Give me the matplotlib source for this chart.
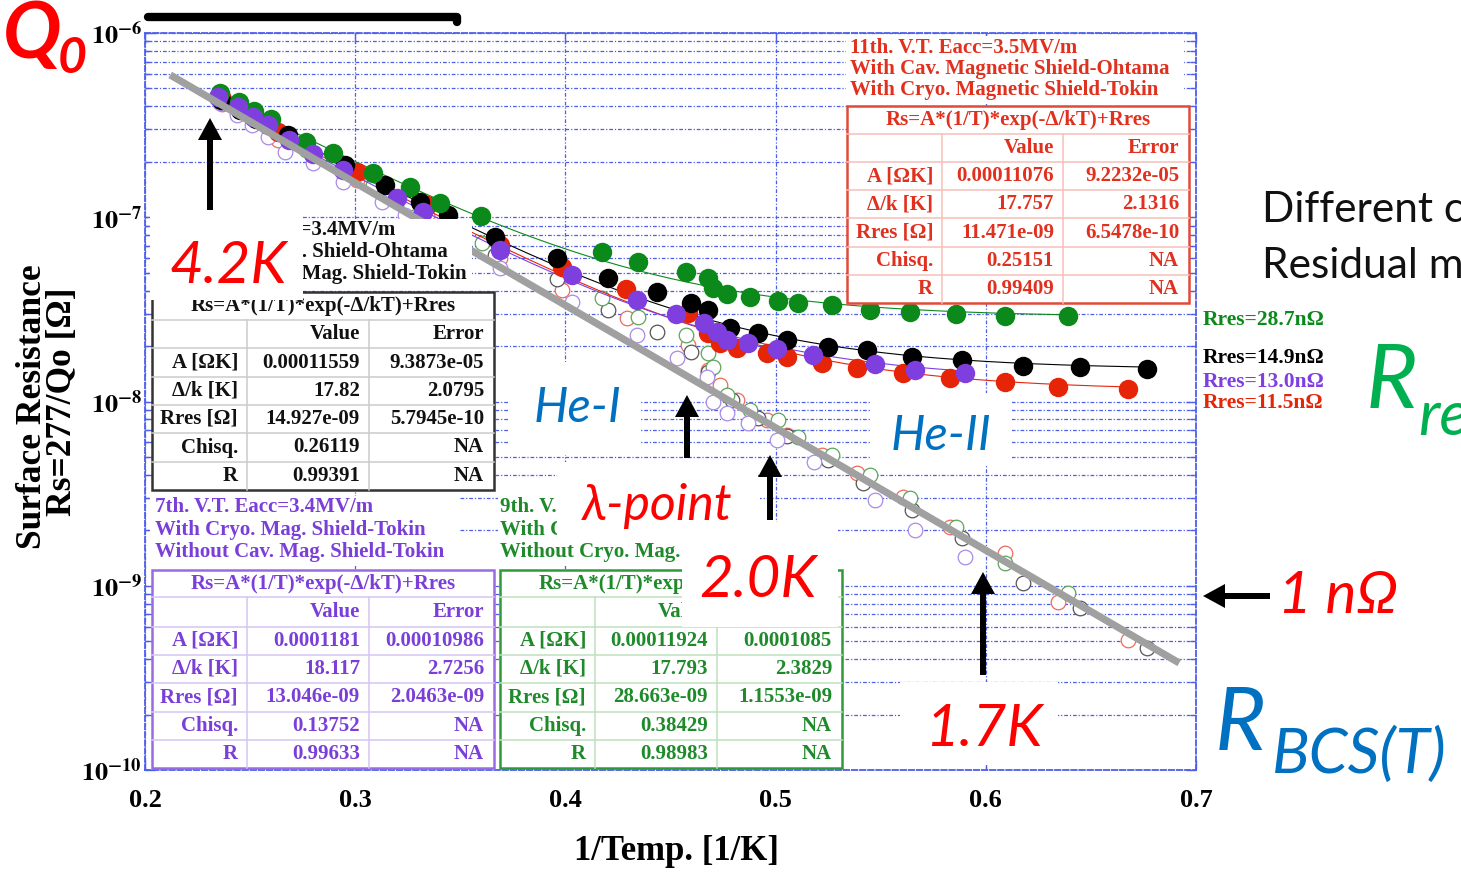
import numpy as np
import matplotlib
matplotlib.use("Agg")
import matplotlib.pyplot as plt
from matplotlib.patches import Rectangle, FancyArrow
from matplotlib.ticker import LogLocator, NullFormatter

W, H = 1461, 873
SERIF = ["Liberation Serif", "DejaVu Serif"]
SANS = ["Lato", "DejaVu Sans"]

plt.rcParams["font.family"] = SERIF
plt.rcParams["font.weight"] = "bold"
plt.rcParams["mathtext.fontset"] = "stix"
plt.rcParams["mathtext.default"] = "bf"

#### data : 1/T [1/K] vs Rs [Ohm]   (filled = measured, *_bcs = Rs - Rres)
green_inv_t = [0.2357, 0.2447, 0.2519, 0.2599, 0.2766, 0.2894, 0.3085, 0.3261, 0.3403, 0.3598,
               0.4174, 0.4345, 0.4574, 0.4678, 0.4702, 0.4769, 0.4878, 0.5011, 0.5107, 0.5268,
               0.5449, 0.5639, 0.5858, 0.6091, 0.6391]
green_rs = [4.73e-7, 4.22e-7, 3.77e-7, 3.41e-7, 2.56e-7, 2.23e-7, 1.74e-7, 1.46e-7, 1.195e-7, 1.016e-7,
            6.48e-8, 5.71e-8, 5.04e-8, 4.68e-8, 4.13e-8, 3.83e-8, 3.69e-8, 3.51e-8, 3.42e-8, 3.34e-8,
            3.14e-8, 3.06e-8, 2.98e-8, 2.91e-8, 2.91e-8]
green_bcs_inv_t = [0.2366, 0.2452, 0.2528, 0.2604, 0.2766, 0.2894, 0.3085, 0.3261, 0.3603, 0.4174,
                   0.4345, 0.4574, 0.4678, 0.4702, 0.4769, 0.4878, 0.5011, 0.5107, 0.5268, 0.5449,
                   0.5639, 0.5858, 0.6091, 0.6391]
green_bcs_rs = [4.49e-7, 3.97e-7, 3.54e-7, 3.17e-7, 2.32e-7, 1.995e-7, 1.496e-7, 1.195e-7, 7.25e-8, 3.645e-8,
                2.874e-8, 2.296e-8, 1.833e-8, 1.539e-8, 1.084e-8, 8.99e-9, 7.93e-9, 6.42e-9, 5.13e-9, 3.99e-9,
                2.995e-9, 2.084e-9, 1.328e-9, 9.13e-10]

black_inv_t = [0.2362, 0.2452, 0.2528, 0.2680, 0.2951, 0.3142, 0.3308, 0.3441, 0.3665, 0.3960,
               0.4203, 0.4436, 0.4598, 0.4678, 0.4783, 0.4916, 0.5054, 0.5249, 0.5435, 0.5649,
               0.5887, 0.6177, 0.6448, 0.6767]
black_rs = [4.33e-7, 3.82e-7, 3.41e-7, 2.795e-7, 1.921e-7, 1.496e-7, 1.21e-7, 1.028e-7, 7.81e-8, 6.01e-8,
            4.68e-8, 3.93e-8, 3.42e-8, 3.14e-8, 2.505e-8, 2.353e-8, 2.157e-8, 1.976e-8, 1.904e-8, 1.744e-8,
            1.68e-8, 1.559e-8, 1.539e-8, 1.501e-8]
black_bcs_inv_t = [0.2381, 0.2538, 0.2690, 0.2951, 0.3142, 0.3308, 0.3441, 0.3665, 0.3960, 0.4203,
                   0.4436, 0.4598, 0.4678, 0.4793, 0.4916, 0.5054, 0.5249, 0.5416, 0.5649, 0.5887,
                   0.6177, 0.6448, 0.6767]
black_bcs_rs = [4.22e-7, 3.29e-7, 2.56e-7, 1.696e-7, 1.288e-7, 1.028e-7, 8.74e-8, 6.24e-8, 4.62e-8, 3.14e-8,
                2.383e-8, 1.857e-8, 1.445e-8, 1.019e-8, 8.14e-9, 6.50e-9, 4.81e-9, 3.61e-9, 2.577e-9, 1.816e-9,
                1.035e-9, 7.57e-10, 4.59e-10]

red_inv_t = [0.2366, 0.2633, 0.3009, 0.3342, 0.3689, 0.3984, 0.4288, 0.4583, 0.4678, 0.4736,
             0.4816, 0.4959, 0.5054, 0.5221, 0.5387, 0.5606, 0.5830, 0.6091, 0.6344, 0.6677]
red_rs = [4.38e-7, 2.90e-7, 1.761e-7, 1.165e-7, 7.07e-8, 5.37e-8, 4.08e-8, 3.02e-8, 2.353e-8, 2.077e-8,
          1.952e-8, 1.833e-8, 1.744e-8, 1.618e-8, 1.52e-8, 1.428e-8, 1.341e-8, 1.276e-8, 1.199e-8, 1.169e-8]
red_bcs_inv_t = [0.2366, 0.2633, 0.3009, 0.3342, 0.3689, 0.3984, 0.4293, 0.4583, 0.4678, 0.4736,
                 0.4816, 0.4959, 0.5054, 0.5221, 0.5387, 0.5606, 0.5830, 0.6091, 0.6344, 0.6677]
red_bcs_rs = [4.12e-7, 2.626e-7, 1.593e-7, 1.028e-7, 6.01e-8, 4.03e-8, 2.838e-8, 2.026e-8, 1.483e-8, 1.229e-8,
              1.019e-8, 7.93e-9, 6.58e-9, 5.13e-9, 4.09e-9, 3.03e-9, 2.084e-9, 1.506e-9, 8.16e-10, 5.08e-10]

purple_inv_t = [0.2347, 0.2442, 0.2514, 0.2585, 0.2685, 0.2799, 0.2942, 0.3199, 0.3323, 0.3484,
                0.3689, 0.4031, 0.4341, 0.4526, 0.4659, 0.4721, 0.4769, 0.4869, 0.5007, 0.5178,
                0.5473, 0.5663, 0.5901]
purple_rs = [4.49e-7, 3.97e-7, 3.50e-7, 3.17e-7, 2.626e-7, 2.204e-7, 1.805e-7, 1.272e-7, 1.068e-7, 8.53e-8,
             6.64e-8, 4.86e-8, 3.556e-8, 2.985e-8, 2.668e-8, 2.383e-8, 2.157e-8, 2.077e-8, 1.927e-8, 1.788e-8,
             1.597e-8, 1.483e-8, 1.428e-8]
purple_bcs_inv_t = [0.2357, 0.2438, 0.2509, 0.2585, 0.2666, 0.2799, 0.2942, 0.3128, 0.3237, 0.3323,
                    0.3689, 0.4031, 0.4341, 0.4531, 0.4674, 0.4702, 0.4769, 0.4869, 0.5007, 0.5183,
                    0.5473, 0.5663, 0.5901]
purple_bcs_rs = [4.17e-7, 3.59e-7, 3.17e-7, 2.725e-7, 2.26e-7, 1.97e-7, 1.553e-7, 1.21e-7, 1.028e-7, 8.74e-8,
                 5.30e-8, 3.467e-8, 2.296e-8, 1.722e-8, 1.358e-8, 9.94e-9, 8.66e-9, 7.64e-9, 6.18e-9, 4.69e-9,
                 2.92e-9, 2.008e-9, 1.432e-9]

# fit parameters Rs = A*(1/T)*exp(-D/T) + Rres   (red, black, purple, green)
fit_a = [0.00011076, 0.00011559, 0.0001181, 0.00011924]
fit_gap = [17.757, 17.82, 18.117, 17.793]
fit_rres = [11.471e-9, 14.927e-9, 13.046e-9, 28.663e-9]

# hand drawn BCS guide line
guide_inv_t = [0.212, 0.692]
guide_rs = [5.92e-7, 3.81e-10]

row_labels = ["A [ΩK]", "Δ/k [K]", "Rres [Ω]", "Chisq.", "R"]
red_vals = ["0.00011076", "17.757", "11.471e-09", "0.25151", "0.99409"]
red_errs = ["9.2232e-05", "2.1316", "6.5478e-10", "NA", "NA"]
black_vals = ["0.00011559", "17.82", "14.927e-09", "0.26119", "0.99391"]
black_errs = ["9.3873e-05", "2.0795", "5.7945e-10", "NA", "NA"]
purple_vals = ["0.0001181", "18.117", "13.046e-09", "0.13752", "0.99633"]
purple_errs = ["0.00010986", "2.7256", "2.0463e-09", "NA", "NA"]
green_vals = ["0.00011924", "17.793", "28.663e-09", "0.38429", "0.98983"]
green_errs = ["0.0001085", "2.3829", "1.1553e-09", "NA", "NA"]

rres_labels = ["Rres=28.7nΩ", "Rres=14.9nΩ", "Rres=13.0nΩ", "Rres=11.5nΩ"]

x_ticks = [0.2, 0.3, 0.4, 0.5, 0.6, 0.7]
y_ticks = [1e-10, 1e-9, 1e-8, 1e-7, 1e-6]

#### colours
c_red, c_black, c_purple, c_green = "#e62408", "#000000", "#7f3fdf", "#0b8a1b"
h_red, h_black, h_purple, h_green = "#ee6a5a", "#555555", "#a98ae8", "#5aa55a"
gridc = "#4d5fea"

fig = plt.figure(figsize=(W / 100, H / 100), dpi=100)
ax = fig.add_axes([145 / W, 1 - 770 / H, (1196 - 145) / W, (770 - 33) / H])
ax.set_yscale("log")
ax.set_xlim(0.2, 0.7)
ax.set_ylim(1e-10, 1e-6)

#### hollow (BCS) points
for xs, ys, c in [(red_bcs_inv_t, red_bcs_rs, h_red), (black_bcs_inv_t, black_bcs_rs, h_black),
                  (green_bcs_inv_t, green_bcs_rs, h_green), (purple_bcs_inv_t, purple_bcs_rs, h_purple)]:
    ax.plot(xs, ys, "o", ms=10.5, mfc="white", mec=c, mew=0.9, zorder=3)

#### measured points + fit curves
meas = [(red_inv_t, red_rs, c_red, 0), (black_inv_t, black_rs, c_black, 1),
        (green_inv_t, green_rs, c_green, 3), (purple_inv_t, purple_rs, c_purple, 2)]
for xs, ys, c, k in meas:
    xf = np.linspace(min(xs), max(xs), 200)
    yf = fit_a[k] * xf * np.exp(-fit_gap[k] * xf) + fit_rres[k]
    ax.plot(xf, yf, "-", color=c, lw=0.8, zorder=4)
for xs, ys, c, k in meas:
    ax.plot(xs, ys, "o", ms=14, mfc=c, mec=c, mew=0, zorder=5)

ax.plot(guide_inv_t, guide_rs, "-", color="#a0a0a0", lw=5.2, solid_capstyle="butt", zorder=6)

#### axes styling
ax.set_xticks(x_ticks)
ax.set_xticklabels(["%.1f" % v for v in x_ticks])
ax.set_yticks(y_ticks)
ax.set_yticklabels(["$10^{%d}$" % int(round(np.log10(v))) for v in y_ticks])
ax.yaxis.set_minor_locator(LogLocator(base=10, subs=np.arange(2, 10)))
ax.yaxis.set_minor_formatter(NullFormatter())
ax.tick_params(which="both", direction="in", top=True, right=True, color=gridc)
ax.tick_params(which="major", length=7, width=1)
ax.tick_params(which="minor", length=4, width=1)
ax.tick_params(axis="x", labelsize=19, pad=14)
ax.tick_params(axis="y", labelsize=19, pad=2)
ax.grid(True, which="major", axis="x", color=gridc, lw=0.9, ls=(0, (3, 1.5, 1, 1.5)))
ax.grid(True, which="both", axis="y", color=gridc, lw=0.9, ls=(0, (3, 1.5, 1, 1.5)))
for s in ax.spines.values():
    s.set_color(gridc)
    s.set_linestyle((0, (3, 1.5)))
    s.set_linewidth(1.3)

#### overlay in pixel coordinates (y down)
ov = fig.add_axes([0, 0, 1, 1], zorder=5)
ov.set_xlim(0, W)
ov.set_ylim(H, 0)
ov.set_facecolor("none")
ov.axis("off")


def white(x0, y0, x1, y1, z=2):
    ov.add_patch(Rectangle((x0, y0), x1 - x0, y1 - y0, fc="white", ec="none", zorder=z))


def title_block(lines, xs, ys, color, ha="left", clip=None):
    for s, x, y in zip(lines, xs, ys):
        t = ov.text(x, y, s, color=color, fontsize=15, ha=ha, va="center", zorder=4)
        if clip is not None:
            t.set_clip_on(True)
            t.set_clip_path(Rectangle((clip[0], clip[1]), clip[2] - clip[0], clip[3] - clip[1],
                                      transform=ov.transData))


def fit_table(x0, x1, c1, c2, rows, edge, inner, color, vals, errs):
    ov.add_patch(Rectangle((x0, rows[0]), x1 - x0, rows[-1] - rows[0], fc="white", ec=edge,
                           lw=1.8, zorder=3))
    for y in rows[1:-1]:
        ov.plot([x0, x1], [y, y], color=inner, lw=1.1, zorder=3)
    for c in (c1, c2):
        ov.plot([c, c], [rows[1], rows[-1]], color=inner, lw=1.1, zorder=3)
    mid = [(a + b) / 2 for a, b in zip(rows[:-1], rows[1:])]
    kw = dict(color=color, fontsize=15, va="center", zorder=4)
    ov.text((x0 + x1) / 2, mid[0], "Rs=A*(1/T)*exp(-Δ/kT)+Rres", ha="center", **kw)
    ov.text(c2 - 9, mid[1], "Value", ha="right", **kw)
    ov.text(x1 - 10, mid[1], "Error", ha="right", **kw)
    for i in range(5):
        ov.text(c1 - 9, mid[i + 2], row_labels[i], ha="right", **kw)
        ov.text(c2 - 9, mid[i + 2], vals[i], ha="right", **kw)
        ov.text(x1 - 10, mid[i + 2], errs[i], ha="right", **kw)


# red (11th) block
white(846, 36, 1184, 104)
title_block(["11th. V.T. Eacc=3.5MV/m", "With Cav. Magnetic Shield-Ohtama",
             "With Cryo. Magnetic Shield-Tokin"], [850] * 3, [48, 69, 90], "#e0301e")
fit_table(847, 1189, 942, 1063, [106, 134, 162, 190, 218, 247, 275, 303],
          "#e04a3a", "#f5c0b8", "#e0301e", red_vals, red_errs)

# black (10th) block, left part hidden behind the 4.2K label
white(150, 219, 472, 290)
title_block(["10th. V.T. Eacc=3.4MV/m", "With Cav. Mag. Shield-Ohtama",
             "With Cryo. Mag. Shield-Tokin"], [395, 448, 467], [230, 252, 274], "#111111",
            ha="right", clip=(303, 215, 480, 292))
fit_table(152, 494, 247, 369, [292, 320, 348, 377, 405, 433, 462, 490],
          "#333333", "#cccccc", "#111111", black_vals, black_errs)

# purple (7th) block
white(150, 496, 460, 566)
title_block(["7th. V.T. Eacc=3.4MV/m", "With Cryo. Mag. Shield-Tokin",
             "Without Cav. Mag. Shield-Tokin"], [155] * 3, [507, 530, 552], "#7a3fd8")
fit_table(152, 494, 247, 369, [570, 597, 627, 655, 683, 712, 740, 768],
          "#9a6ae0", "#d6c6f2", "#7a3fd8", purple_vals, purple_errs)

# green (9th) block
white(498, 496, 760, 566)
title_block(["9th. V.T. Eacc=3.4MV/m", "With Cav. Mag. Shield-Ohtama",
             "Without Cryo. Mag. Shield-Tokin"], [500] * 3, [507, 530, 552], "#1e8a2a",
            clip=(495, 495, 682, 570))
fit_table(500, 842, 595, 717, [570, 597, 627, 655, 683, 712, 740, 768],
          "#2e9a3a", "#bfe0bf", "#1e8a2a", green_vals, green_errs)

# Rres labels right of the frame
for s, y, c in zip(rres_labels, [320, 358, 382, 403], [c_green, c_black, c_purple, c_red]):
    ov.text(1203, y, s, color=c, fontsize=15.5, ha="left", va="center")

# axis titles
ov.text(676, 852, "1/Temp. [1/K]", fontsize=25, ha="center", va="center")
ov.text(33, 407, "Surface Resistance", fontsize=25.5, rotation=90, ha="center", va="center")
ov.text(62, 402, "Rs=277/Qo [Ω]", fontsize=25.5, rotation=90, ha="center", va="center")

#### slide annotations
white(150, 213, 303, 300, z=6)
white(508, 362, 640, 455, z=6)
white(557, 462, 757, 540, z=6)
white(682, 522, 838, 627, z=6)
white(870, 393, 1012, 465, z=6)
white(900, 682, 1058, 765, z=6)

red_t, blue_t, green_t = "#ff0000", "#0070c0", "#00b050"
sans = dict(family=SANS, fontweight="normal", style="italic", zorder=8)
ov.text(228, 283, "4.2K", color=red_t, fontsize=42, ha="center", va="baseline", **sans)
ov.text(578, 422, "He-I", color=blue_t, fontsize=35, ha="center", va="baseline", **sans)
ov.text(657, 520, "λ-point", color=red_t, fontsize=36, ha="center", va="baseline", **sans)
ov.text(758, 597, "2.0K", color=red_t, fontsize=42, ha="center", va="baseline", **sans)
ov.text(941, 450, "He-II", color=blue_t, fontsize=35, ha="center", va="baseline", **sans)
ov.text(984, 746, "1.7K", color=red_t, fontsize=42, ha="center", va="baseline", **sans)
ov.text(1278, 613, "1 nΩ", color=red_t, fontsize=42, ha="left", va="baseline", **sans)
ov.text(1215, 750, "R", color=blue_t, fontsize=63, ha="left", va="baseline", **sans)
ov.text(1272, 773, "BCS(T)", color=blue_t, fontsize=45, ha="left", va="baseline", **sans)
ov.text(1366, 408, "R", color=green_t, fontsize=64, ha="left", va="baseline", **sans)
ov.text(1418, 435, "re", color=green_t, fontsize=45, ha="left", va="baseline", **sans)
ov.text(3, 58, "Q", color=red_t, fontsize=56, ha="left", va="baseline",
        family=SANS, fontweight="bold", style="italic", zorder=8)
ov.text(58, 73, "0", color=red_t, fontsize=36, ha="left", va="baseline",
        family=SANS, fontweight="bold", style="italic", zorder=8)
ov.text(1262, 222, "Different c", color="#111111", fontsize=30.5, ha="left", va="baseline",
        family=SANS, fontweight="normal", zorder=8)
ov.text(1262, 278, "Residual m", color="#111111", fontsize=30.5, ha="left", va="baseline",
        family=SANS, fontweight="normal", zorder=8)

# black arrows
for x0, y0, x1, y1 in [(210, 210, 210, 118), (687, 458, 687, 395), (770, 520, 770, 455),
                       (983, 675, 983, 572), (1270, 596, 1203, 596)]:
    ov.add_patch(FancyArrow(x0, y0, x1 - x0, y1 - y0, width=6, head_width=24, head_length=22,
                            length_includes_head=True, fc="black", ec="none", zorder=9))

# black bar at the top edge
ov.plot([148, 457, 457], [17, 17, 22], color="black", lw=6, solid_capstyle="round", zorder=9)

fig.savefig("out.png", dpi=100)
